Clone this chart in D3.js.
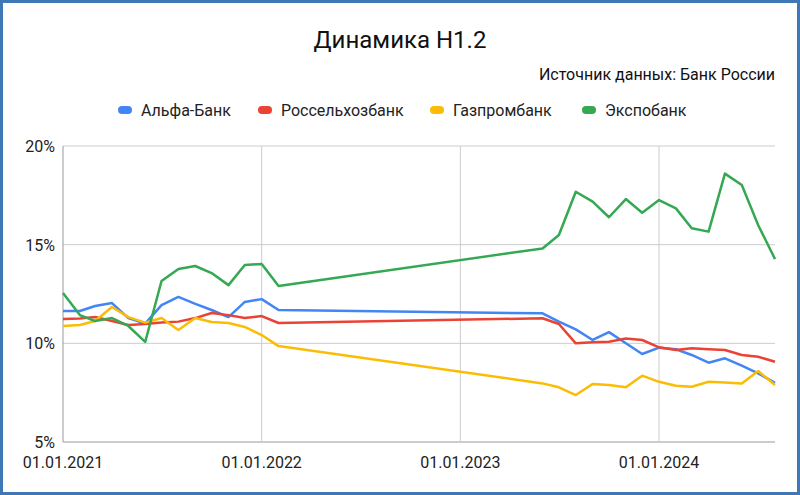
<!DOCTYPE html><html><head><meta charset="utf-8"><script src="https://cdn.jsdelivr.net/npm/d3@7"></script>
<style>body{margin:0}svg{font-family:Roboto,sans-serif}</style></head><body><svg width="800" height="495"></svg><script>
const dates=["2021-01","2021-02","2021-03","2021-04","2021-05","2021-06","2021-07","2021-08","2021-09","2021-10","2021-11","2021-12","2022-01","2022-02","2023-06","2023-07","2023-08","2023-09","2023-10","2023-11","2023-12","2024-01","2024-02","2024-03","2024-04","2024-05","2024-06","2024-07","2024-08"];
const alfa=[11.64,11.64,11.89,12.04,11.28,11.0,11.94,12.35,12.0,11.69,11.33,12.1,12.24,11.69,11.52,11.1,10.71,10.17,10.57,10.0,9.46,9.78,9.7,9.41,9.02,9.24,8.87,8.48,8.0];
const rshb=[11.23,11.26,11.33,11.13,10.93,10.98,11.05,11.1,11.28,11.54,11.43,11.28,11.38,11.03,11.27,10.98,10.0,10.05,10.08,10.25,10.17,9.8,9.66,9.75,9.7,9.66,9.41,9.32,9.07];
const gpb=[10.88,10.93,11.13,11.84,11.33,11.05,11.28,10.68,11.28,11.08,11.03,10.83,10.42,9.86,7.97,7.77,7.38,7.94,7.89,7.77,8.36,8.05,7.85,7.8,8.05,8.02,7.97,8.6,7.89];
const expo=[12.55,11.43,11.13,11.28,10.88,10.07,13.16,13.77,13.92,13.56,12.95,13.97,14.02,12.9,14.81,15.49,17.68,17.18,16.39,17.31,16.62,17.26,16.84,15.83,15.66,18.6,18.02,16.0,14.27];
const names=["Альфа-Банк","Россельхозбанк","Газпромбанк","Экспобанк"];
const colors=["#4285f4","#ea4335","#fbbc04","#34a853"];
const yTicks=[5,10,15,20];
const xTicks=["2021-01","2022-01","2023-01","2024-01"];
const series=[alfa,rshb,gpb,expo];
const svg=d3.select("svg");
svg.append("rect").attr("x",1.5).attr("y",1.5).attr("width",797).attr("height",492).attr("fill","#fff").attr("stroke","#3f78b5").attr("stroke-width",3);
const p=d3.timeParse("%Y-%m");
const x=d3.scaleTime().domain([p("2021-01"),p("2024-08")]).range([63,775]);
const y=d3.scaleLinear().domain([5,20]).range([442,146]);
const g=svg.append("g");
yTicks.forEach(t=>{g.append("line").attr("x1",63).attr("x2",775).attr("y1",y(t)).attr("y2",y(t)).attr("stroke",t==5?"#999":"#ccc");
g.append("text").attr("x",55).attr("y",y(t)+6).attr("text-anchor","end").attr("font-size",16).attr("fill","#222").text(t+"%");});
xTicks.forEach(t=>{const xx=x(p(t));g.append("line").attr("x1",xx).attr("x2",xx).attr("y1",146).attr("y2",442).attr("stroke",xx<70?"#999":"#ccc");
g.append("text").attr("x",xx).attr("y",468).attr("text-anchor","middle").attr("font-size",16).attr("fill","#222").text(d3.timeFormat("%d.%m.%Y")(p(t)));});
const line=d3.line().x((d,i)=>x(p(dates[i]))).y(d=>y(d));
series.forEach((s,k)=>svg.append("path").attr("d",line(s)).attr("fill","none").attr("stroke",colors[k]).attr("stroke-width",2.5).attr("stroke-linejoin","round"));
svg.append("text").attr("x",400).attr("y",48).attr("text-anchor","middle").attr("font-size",24).attr("fill","#111").text("Динамика Н1.2");
svg.append("text").attr("x",775).attr("y",80).attr("text-anchor","end").attr("font-size",16).attr("fill","#111").text("Источник данных: Банк России");
const lx=[118,258,430,582];
names.forEach((n,k)=>{svg.append("rect").attr("x",lx[k]).attr("y",106).attr("width",14).attr("height",8).attr("rx",4).attr("fill",colors[k]);
svg.append("text").attr("x",lx[k]+23).attr("y",116).attr("font-size",16).attr("fill","#222").text(n);});
</script></body></html>
